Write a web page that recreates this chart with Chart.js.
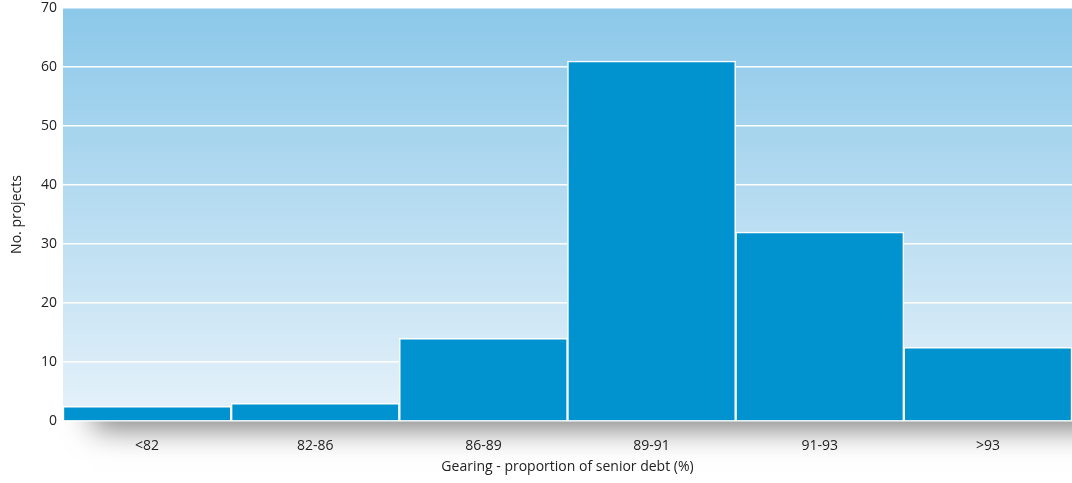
<!DOCTYPE html>
<html>
<head>
<meta charset="utf-8">
<script src="https://cdn.jsdelivr.net/npm/chart.js@4/dist/chart.umd.min.js"></script>
<style>
  html, body { margin: 0; padding: 0; background: #fff; }
  #wrap { position: relative; width: 1072px; height: 483px; }
</style>
</head>
<body>
<div id="wrap"><canvas id="hist"></canvas></div>
<script>
// ── Data ─────────────────────────────────────────────────────────────────────
const categories = ['<82', '82-86', '86-89', '89-91', '91-93', '>93'];
const projects   = [2.5, 3, 14, 61, 32, 12.5];
const yTicks     = [0, 10, 20, 30, 40, 50, 60, 70];

const FONT = "'Open Sans', sans-serif";

// ── Plugins: gradient plot background + soft shadow under the axis ──────────
const plotBackground = {
  id: 'plotBackground',
  beforeDraw(chart) {
    const { ctx, chartArea: a } = chart;
    ctx.save();
    // shadow below the baseline
    ctx.beginPath();
    ctx.rect(0, a.bottom, chart.width, chart.height - a.bottom);
    ctx.clip();
    ctx.shadowColor = 'rgba(0,0,0,0.5)';
    ctx.shadowBlur = 28;
    ctx.shadowOffsetX = 30;
    ctx.shadowOffsetY = 8;
    ctx.fillStyle = '#ffffff';
    ctx.fillRect(a.left, a.top, a.right - a.left, a.bottom - a.top);
    ctx.restore();

    const g = ctx.createLinearGradient(0, a.top, 0, a.bottom);
    g.addColorStop(0, '#8bc8e9');
    g.addColorStop(1, '#e6f2fa');
    ctx.save();
    ctx.fillStyle = g;
    ctx.fillRect(a.left, a.top, a.right - a.left, a.bottom - a.top);
    ctx.restore();
  },
};

new Chart(document.getElementById('hist'), {
  type: 'bar',
  data: {
    labels: categories,
    datasets: [{
      label: 'No. projects',
      data: projects,
      backgroundColor: '#0093d0',
      borderColor: '#ffffff',
      borderWidth: 1.5,
      borderSkipped: 'bottom',
      categoryPercentage: 1,
      barPercentage: 1,
    }],
  },
  options: {
    responsive: true,
    maintainAspectRatio: false,
    animation: false,
    layout: { padding: { top: 8, right: 0, left: 0, bottom: 0 } },
    plugins: {
      legend: { display: false },
      tooltip: { enabled: false },
    },
    scales: {
      x: {
        grid: { display: false, drawTicks: false },
        border: { display: false },
        ticks: {
          color: '#222',
          font: { family: FONT, size: 14 },
          padding: 17,
        },
        title: {
          display: true,
          text: 'Gearing - proportion of senior debt (%)',
          color: '#222',
          font: { family: FONT, size: 14 },
          padding: { top: 4, bottom: 8 },
        },
        afterFit: s => { s.height = 62; s.paddingLeft = 0; s.paddingRight = 0; },
      },
      y: {
        min: 0,
        max: 70,
        afterBuildTicks: s => { s.ticks = yTicks.map(v => ({ value: v })); },
        grid: { color: '#ffffff', lineWidth: 1.5, drawTicks: false },
        border: { display: false },
        ticks: {
          color: '#222',
          font: { family: FONT, size: 14 },
          padding: 6,
        },
        title: {
          display: true,
          text: 'No. projects',
          color: '#222',
          font: { family: FONT, size: 14 },
          padding: { top: 9, bottom: 4 },
        },
        afterFit: s => { s.width = 63; s.paddingTop = 0; s.paddingBottom = 0; },
      },
    },
  },
  plugins: [plotBackground],
});
</script>
</body>
</html>
